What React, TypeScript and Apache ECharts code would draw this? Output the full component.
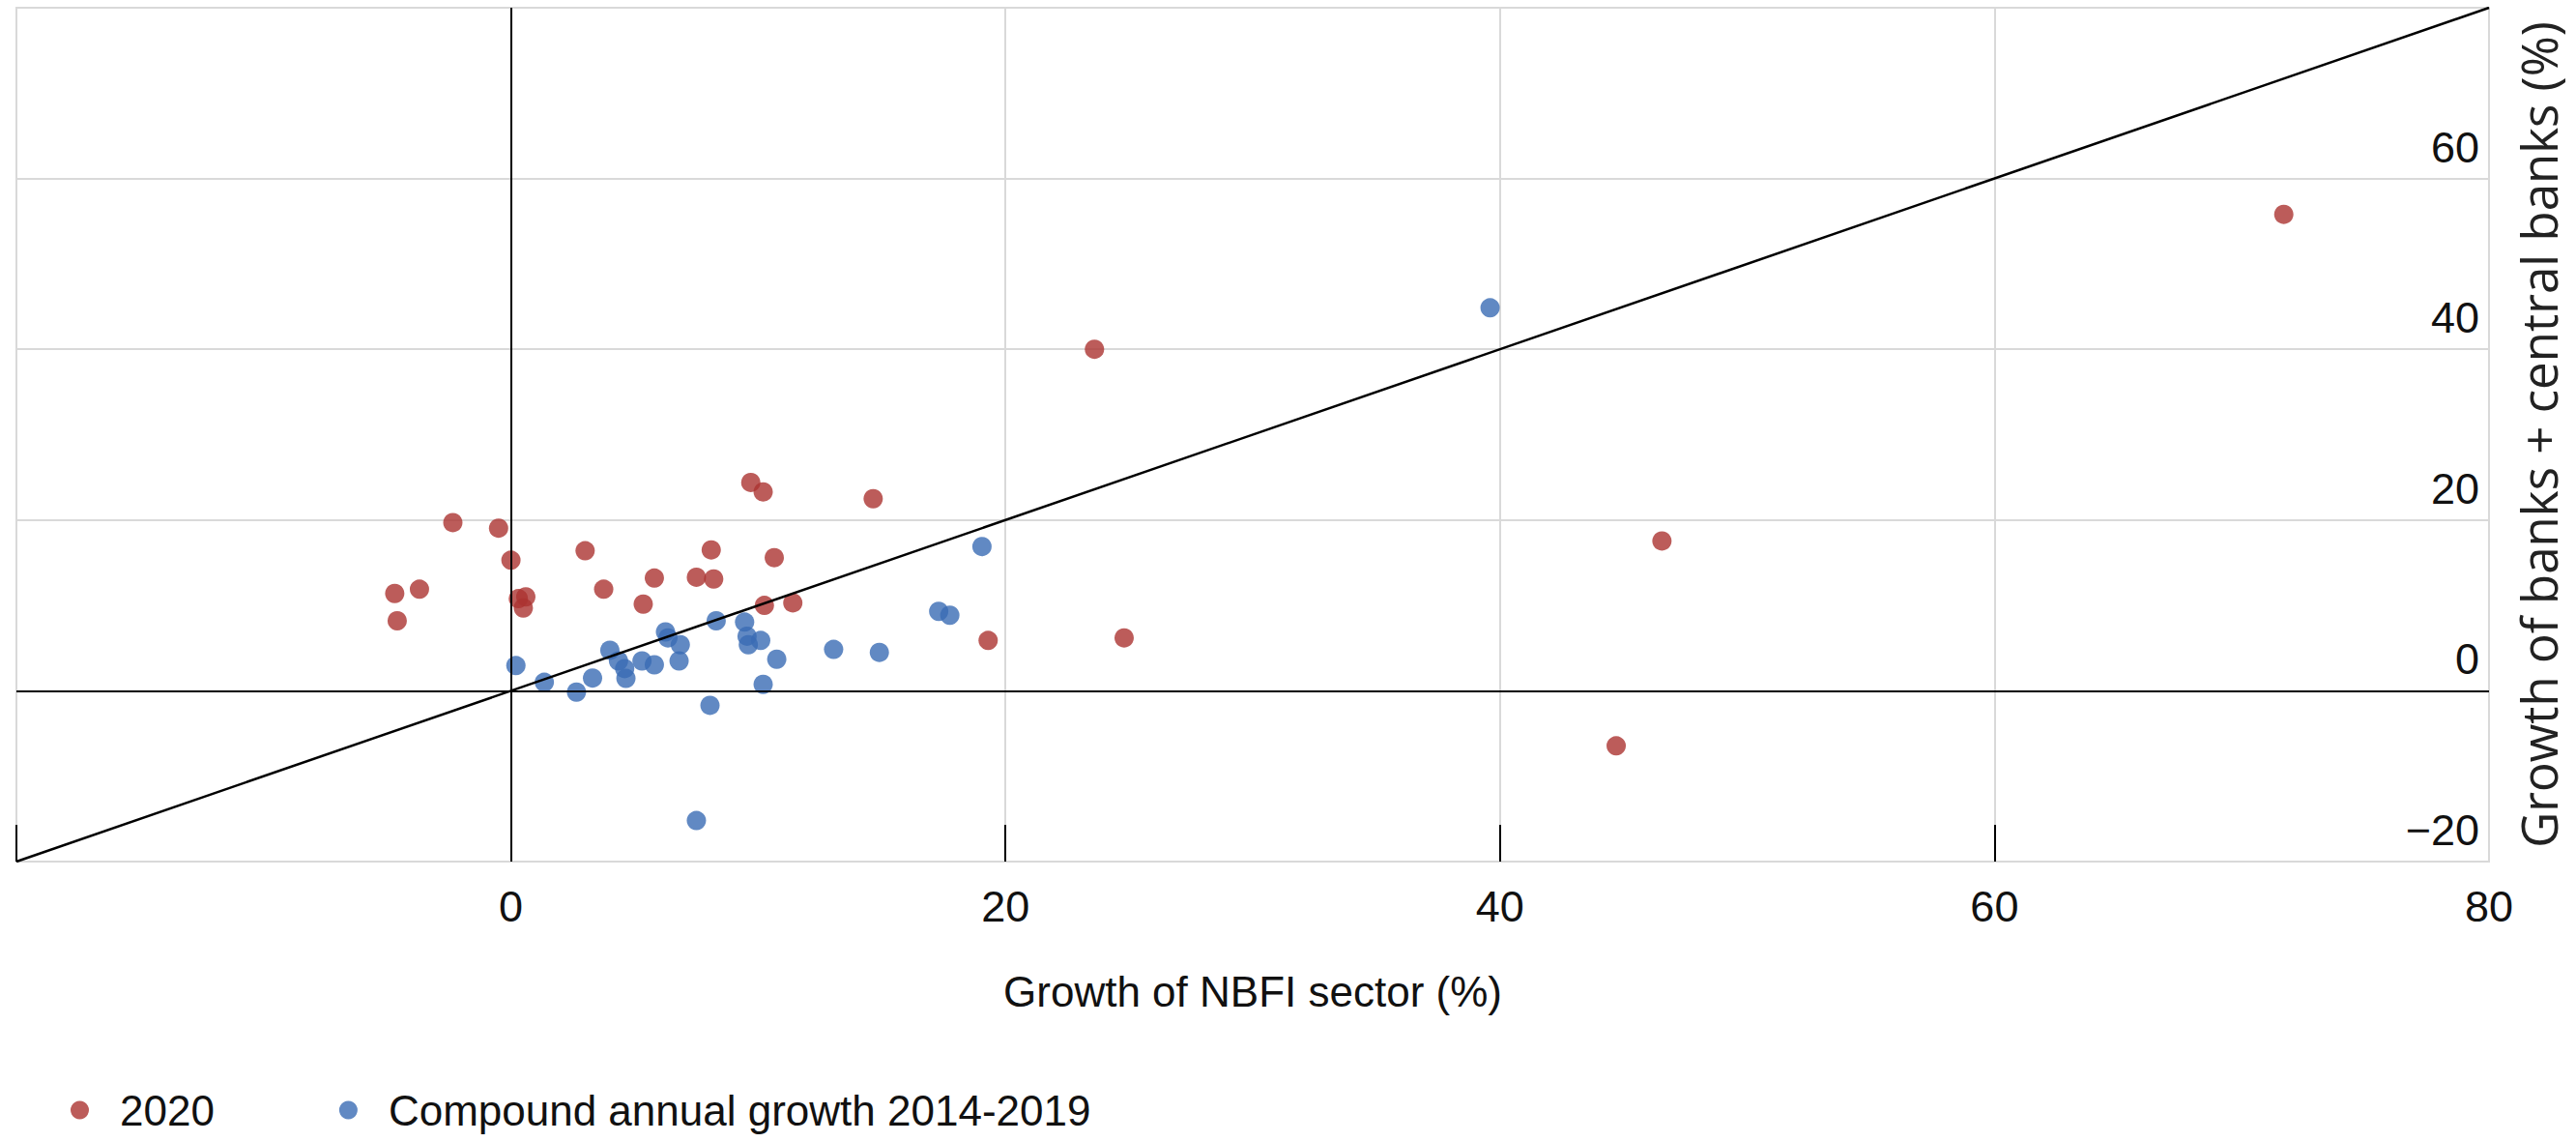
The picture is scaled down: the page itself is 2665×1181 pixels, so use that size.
import React, { useEffect, useRef } from "react";
import * as echarts from "echarts";

// 2020 growth: [NBFI growth, banks + central banks growth]
const growth2020: [number, number][] = [
  [-4.7, 11.4], [-4.6, 8.2], [-3.7, 11.9], [-2.35, 19.7], [-0.5, 19.05],
  [0.0, 15.3], [0.3, 10.8], [0.6, 11.0], [0.5, 9.7], [3.0, 16.4],
  [3.75, 11.9], [5.35, 10.15], [5.8, 13.2], [7.5, 13.3], [8.1, 16.5],
  [8.2, 13.1], [9.7, 24.4], [10.2, 23.3], [10.65, 15.6], [10.25, 10.0],
  [11.4, 10.3], [14.65, 22.5], [19.3, 5.9], [24.8, 6.2], [23.6, 40.0],
  [46.55, 17.55], [44.7, -6.45], [71.7, 55.8],
];

// Compound annual growth 2014-2019
const growthCagr: [number, number][] = [
  [0.2, 2.95], [1.35, 1.0], [2.65, -0.15], [3.3, 1.5], [4.0, 4.75],
  [4.35, 3.5], [4.6, 2.6], [4.65, 1.45], [5.3, 3.5], [5.8, 3.05],
  [6.25, 6.9], [6.35, 6.2], [6.85, 5.4], [6.8, 3.5], [8.3, 8.2],
  [8.05, -1.7], [7.5, -15.2], [9.45, 8.05], [9.55, 6.4], [9.6, 5.4],
  [10.1, 5.9], [10.75, 3.7], [10.2, 0.75], [13.05, 4.85], [14.9, 4.5],
  [17.3, 9.3], [17.75, 8.85], [19.05, 16.9], [39.6, 44.85],
];

const diagonal: [number, number][] = [[-20, -20], [80, 80]];
const xTickValues = [-20, 0, 20, 40, 60];
const xLabelValues = [0, 20, 40, 60, 80];
const yLabelValues = [-20, 0, 20, 40, 60];

const seriesNames = ["2020", "Compound annual growth 2014-2019"];

const NARROW = "'Liberation Sans Narrow', 'Liberation Sans', Arial, sans-serif";
const WIDE = "'Open Sans', 'Noto Sans', sans-serif";
const RED = "#AB3331";
const BLUE = "#3A6CB4";
const GRID = "#d9d9d9";
const TEXT = "#111111";

export default function App() {
  const ref = useRef<HTMLDivElement>(null);
  useEffect(() => {
    const chart = echarts.init(ref.current!, null, { renderer: "svg" });
    chart.setOption({
      animation: false,
      backgroundColor: "#ffffff",
      grid: {
        left: 17,
        right: 90,
        top: 8,
        bottom: 290,
        show: true,
        borderColor: GRID,
        borderWidth: 2,
      },
      xAxis: {
        type: "value",
        min: -20,
        max: 80,
        interval: 20,
        axisLine: { show: false, onZero: false },
        axisTick: {
          show: true,
          inside: true,
          length: 38,
          customValues: xTickValues,
          lineStyle: { color: "#000", width: 2 },
        },
        axisLabel: {
          customValues: xLabelValues,
          margin: 24,
          fontFamily: NARROW,
          fontSize: 45,
          color: TEXT,
        },
        splitLine: { show: true, lineStyle: { color: GRID, width: 2 } },
        name: "Growth of NBFI sector (%)",
        nameLocation: "middle",
        nameGap: 112,
        nameTextStyle: { fontFamily: NARROW, fontSize: 44, color: TEXT },
      },
      yAxis: {
        type: "value",
        position: "right",
        min: -20,
        max: 80,
        interval: 20,
        axisLine: { show: false, onZero: false },
        axisTick: { show: false },
        axisLabel: {
          inside: true,
          customValues: yLabelValues,
          margin: 10,
          verticalAlign: "bottom",
          padding: [0, 0, 10, 0],
          fontFamily: NARROW,
          fontSize: 45,
          color: TEXT,
          formatter: (v: number) => String(v).replace("-", "\u2212"),
        },
        splitLine: { show: true, lineStyle: { color: GRID, width: 2 } },
        name: "Growth of banks + central banks (%)",
        nameLocation: "middle",
        nameRotate: 90,
        nameGap: 25,
        nameTextStyle: { fontFamily: WIDE, fontSize: 51, color: "#222" },
      },
      legend: {
        data: seriesNames,
        left: 73,
        top: 1126,
        padding: 0,
        orient: "horizontal",
        icon: "circle",
        itemWidth: 19,
        itemHeight: 19,
        itemGap: 129,
        textStyle: {
          fontFamily: NARROW,
          fontSize: 44,
          color: TEXT,
          padding: [0, 0, 0, 27],
        },
      },
      series: [
        {
          name: seriesNames[0],
          type: "scatter",
          data: growth2020,
          symbolSize: 20,
          itemStyle: { color: RED },
          z: 3,
        },
        {
          name: seriesNames[1],
          type: "scatter",
          data: growthCagr,
          symbolSize: 20,
          itemStyle: { color: BLUE },
          z: 3,
        },
        {
          type: "line",
          data: diagonal,
          symbol: "none",
          silent: true,
          lineStyle: { color: "#000", width: 2.5 },
          z: 4,
          markLine: {
            silent: true,
            symbol: ["none", "none"],
            label: { show: false },
            lineStyle: { color: "#000", width: 2, type: "solid" },
            data: [{ xAxis: 0 }, { yAxis: 0 }],
          },
        },
      ],
    });
    return () => chart.dispose();
  }, []);
  return (
    <div
      ref={ref}
      style={{ position: "absolute", left: 0, top: 0, width: 2665, height: 1181 }}
    />
  );
}
